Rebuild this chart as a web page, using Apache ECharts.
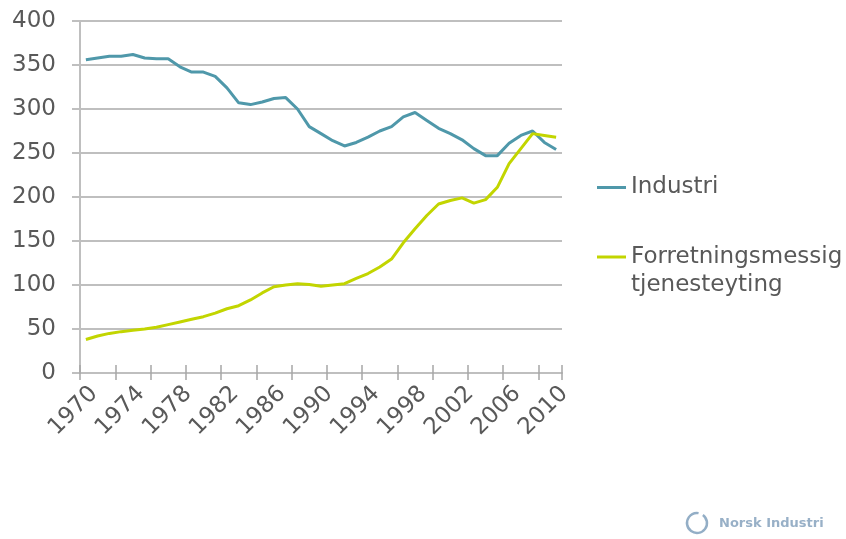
<!DOCTYPE html>
<html>
<head>
    <meta charset="utf-8">
    <title>Industri og forretningsmessig tjenesteyting</title>
    <script src="https://cdn.jsdelivr.net/npm/echarts@6/dist/echarts.min.js"></script>
</head>
<body style="margin:0;background:#fff;">
<div id="main" style="width: 846px;height:539px;"></div>
<script type="text/javascript">

    // data
    let years = ['1970', '1971', '1972', '1973', '1974', '1975', '1976', '1977', '1978', '1979',
        '1980', '1981', '1982', '1983', '1984', '1985', '1986', '1987', '1988', '1989',
        '1990', '1991', '1992', '1993', '1994', '1995', '1996', '1997', '1998', '1999',
        '2000', '2001', '2002', '2003', '2004', '2005', '2006', '2007', '2008', '2009', '2010'];
    let industri = [356, 358, 360, 360, 362, 358, 357, 357, 348, 342,
        342, 337, 324, 307, 305, 308, 312, 313, 300, 280,
        272, 264, 258, 262, 268, 275, 280, 291, 296, 287,
        278, 272, 265, 255, 247, 247, 261, 270, 275, 262, 254];
    let tjenester = [38, 42, 45, 47, 48.5, 50, 52, 55, 58, 61,
        64, 68, 73, 76.5, 83, 91, 98, 100, 101.5, 100.5,
        98.5, 100, 101.5, 107.5, 113, 120.5, 129.5, 148, 164, 179,
        192, 196, 199, 193, 197, 211, 238, 255, 272, 270, 268];
    let yTicks = [0, 400, 50]; // min, max, interval

    let nameA = 'Industri';
    let nameB = 'Forretningsmessig\ntjenesteyting';

    let textColor = '#595959';
    let gridColor = '#bfbfbf';
    let font = 'DejaVu Sans, Verdana, sans-serif';
    let fs = 23;

    let option = {
        animation: false,
        textStyle: { fontFamily: font },
        grid: { left: 80, right: 284, top: 21, bottom: 166 },
        legend: [
            {
                data: [nameA],
                orient: 'vertical',
                left: 597, top: 176, padding: 0,
                icon: 'rect', itemWidth: 29, itemHeight: 3,
                textStyle: { color: textColor, fontSize: fs, fontFamily: font }
            },
            {
                // blank first line so the icon sits on the first text line
                data: [nameB],
                orient: 'vertical',
                left: 597, top: 215, padding: 0,
                icon: 'rect', itemWidth: 29, itemHeight: 3,
                formatter: function (name) { return ' \n' + name; },
                textStyle: { color: textColor, fontSize: fs, lineHeight: 28, fontFamily: font }
            }
        ],
        xAxis: [
            {
                type: 'category',
                data: years,
                position: 'bottom',
                boundaryGap: true,
                axisLine: { lineStyle: { color: gridColor, width: 2 } },
                axisTick: { show: true, interval: 2, length: 7, lineStyle: { color: '#a6a6a6', width: 1.5 } },
                axisLabel: {
                    interval: 3, rotate: 45, margin: 9, verticalAlign: 'top',
                    color: textColor, fontSize: fs, fontFamily: font
                }
            },
            {
                type: 'category',
                data: years,
                position: 'bottom',
                boundaryGap: true,
                axisLine: { show: false },
                axisTick: { show: true, inside: true, interval: 2, length: 8, lineStyle: { color: '#a6a6a6', width: 1.5 } },
                axisLabel: { show: false }
            }
        ],
        yAxis: {
            type: 'value',
            min: yTicks[0],
            max: yTicks[1],
            interval: yTicks[2],
            axisLine: { show: true, lineStyle: { color: gridColor, width: 2 } },
            axisTick: { show: true, length: 8, lineStyle: { color: gridColor, width: 2 } },
            axisLabel: { margin: 24, color: textColor, fontSize: fs, fontFamily: font },
            splitLine: { lineStyle: { color: gridColor, width: 2 } }
        },
        series: [
            {
                name: nameA,
                type: 'line',
                data: industri,
                symbol: 'none',
                lineStyle: { color: '#4f98aa', width: 3 },
                itemStyle: { color: '#4f98aa' }
            },
            {
                name: nameB,
                type: 'line',
                data: tjenester,
                symbol: 'none',
                lineStyle: { color: '#c2d500', width: 3 },
                itemStyle: { color: '#c2d500' }
            }
        ],
        graphic: [
            {
                type: 'arc',
                shape: { cx: 697, cy: 523, r: 10, startAngle: -Math.PI * 0.3, endAngle: Math.PI * 1.55 },
                style: { stroke: '#93aec6', lineWidth: 2.5, fill: null }
            },
            {
                type: 'text',
                left: 719, top: 517,
                style: { text: 'Norsk Industri', fill: '#86a2bd', opacity: 0.85, font: 'bold 13px ' + font }
            }
        ]
    };

    let myChart = echarts.init(document.getElementById('main'));
    myChart.setOption(option);
</script>
</body>
</html>
